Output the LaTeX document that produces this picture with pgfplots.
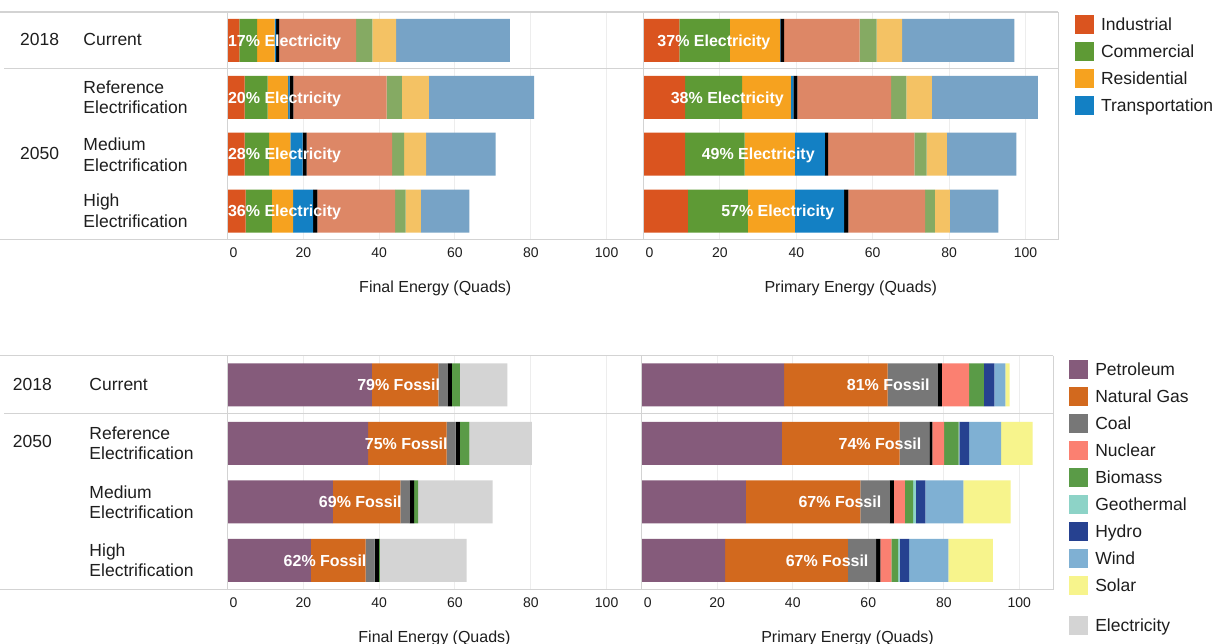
\documentclass[border=0pt]{standalone}
\usepackage{pgfplots}
\pgfplotsset{compat=1.18}
\usepackage{pgfplotstable}
\usepackage{fontspec}
\setmainfont{Liberation Sans}

\definecolor{cInd}{HTML}{DA541F}
\definecolor{cCom}{HTML}{5E9A35}
\definecolor{cRes}{HTML}{F6A21F}
\definecolor{cTra}{HTML}{1380C4}
\definecolor{cIndN}{HTML}{DD8766}
\definecolor{cComN}{HTML}{85AA63}
\definecolor{cResN}{HTML}{F4C264}
\definecolor{cTraN}{HTML}{77A3C6}
\definecolor{cPet}{HTML}{855B7B}
\definecolor{cNG}{HTML}{D2691E}
\definecolor{cCoal}{HTML}{777777}
\definecolor{cNuc}{HTML}{FB8071}
\definecolor{cBio}{HTML}{5A9B47}
\definecolor{cGeo}{HTML}{8DD3C7}
\definecolor{cHyd}{HTML}{264190}
\definecolor{cWind}{HTML}{7FB0D3}
\definecolor{cSol}{HTML}{F7F48C}
\definecolor{cElec}{HTML}{D4D4D4}
\definecolor{gridc}{HTML}{EDEDED}
\definecolor{framec}{HTML}{D3D3D3}
\definecolor{txt}{HTML}{1E1E1E}

% Final energy by sector (y=3 is 2018 Current, top)
\pgfplotstableread{
y ind com res tra sep indn comn resn tran
3 3.1 4.7 4.6 0.4 0.8 20.3 4.3 6.3 30.0
2 4.5 6.1 5.4 0.4 1.0 24.6 4.0 7.1 27.8
1 4.5 6.5 5.6 3.2 1.1 22.5 3.2 5.8 18.3
0 4.8 6.9 5.6 5.3 1.1 20.5 2.8 4.0 12.8
}\tFinalSec
% Primary energy by sector
\pgfplotstableread{
y ind com res tra sep indn comn resn tran
3 9.4 13.2 13.1 0.1 1.0 19.8 4.4 6.7 29.4
2 10.9 14.9 12.8 0.6 1.1 24.5 4.0 6.7 27.7
1 10.9 15.6 13.1 7.9 0.8 22.6 3.2 5.3 18.2
0 11.6 15.7 12.3 12.9 1.1 20.1 2.6 3.9 12.7
}\tPrimSec
% Final energy by source
\pgfplotstableread{
y pet ng coal sep bio elec
3 38.1 17.5 2.5 1.1 2.1 12.5
2 37.1 20.7 2.4 1.1 2.5 16.5
1 27.8 17.8 2.5 1.1 1.1 19.6
0 22.0 14.4 2.4 1.1 0.3 22.9
}\tFinalSrc
% Primary energy by source
\pgfplotstableread{
y pet ng coal sep nuc bio geo hyd wind sol
3 37.7 27.4 13.3 1.1 7.2 3.9 0.0 2.8 2.9 1.1
2 37.1 31.2 7.9 0.8 3.1 3.8 0.2 2.6 8.5 8.3
1 27.6 30.3 7.8 1.1 2.9 2.2 0.7 2.5 10.1 12.5
0 22.1 32.5 7.5 1.1 2.9 1.8 0.4 2.5 10.4 11.8
}\tPrimSrc

\tikzset{
  blab/.style={font=\fontsize{16bp}{18bp}\selectfont\bfseries, text=white, inner sep=0pt, text height=11.5bp, text depth=0pt},
}
\pgfplotsset{
  panel/.style={
    scale only axis,
    anchor=north west,
    xbar stacked,
    ymin=-0.5, ymax=3.5,
    ytick=\empty,
    xmin=0,
    xtick={0,20,...,100},
    xticklabels={\hspace*{12bp}0,20,40,60,80,100},
    xmajorgrids,
    major grid style={draw=gridc, line width=1bp},
    axis line style={draw=none},
    major tick length=0pt,
    tick style={draw=none},
    /pgf/number format/assume math mode=true,
    xticklabel style={font=\fontsize{14bp}{16bp}\selectfont, inner sep=0pt, anchor=north, yshift=-8.4bp, text=txt},
    xlabel style={font=\fontsize{16bp}{18bp}\selectfont, at={(axis description cs:0.5,0)}, anchor=base, yshift=-52.9bp, text=txt, inner sep=0pt},
    legend image code/.code={\fill[##1] (0bp,-9.5bp) rectangle (19bp,9.5bp);},
    legend style={draw=none, fill=none, inner sep=0pt, outer sep=0pt, anchor=north west, row sep=8bp, column sep=7bp, font=\fontsize{17.5bp}{20bp}\selectfont, nodes={inner sep=0pt, text height=12.5bp, text depth=0pt, text=txt}},
    legend cell align=left,
    clip=false,
  },
}

\begin{document}
\begin{tikzpicture}
\path[use as bounding box, fill=white] (0,0) rectangle (1215bp,-644bp);

% ---------- Top left: Final energy by sector
\begin{axis}[panel, at={(227.5bp,-12bp)}, width=415.5bp, height=227.5bp, xmax=109.6,
  bar width=0.755, xlabel={Final Energy (Quads)},
  after end axis/.code={
    \node[blab, anchor=west] at (axis cs:0.1,3) {17\% Electricity};
    \node[blab, anchor=west] at (axis cs:0.1,2) {20\% Electricity};
    \node[blab, anchor=west] at (axis cs:0.1,1) {28\% Electricity};
    \node[blab, anchor=west] at (axis cs:0.1,0) {36\% Electricity};
  }]
\addplot[fill=cInd, draw=none] table[x=ind, y=y] {\tFinalSec};
\addplot[fill=cCom, draw=none] table[x=com, y=y] {\tFinalSec};
\addplot[fill=cRes, draw=none] table[x=res, y=y] {\tFinalSec};
\addplot[fill=cTra, draw=none] table[x=tra, y=y] {\tFinalSec};
\addplot[fill=black, draw=none] table[x=sep, y=y] {\tFinalSec};
\addplot[fill=cIndN, draw=none] table[x=indn, y=y] {\tFinalSec};
\addplot[fill=cComN, draw=none] table[x=comn, y=y] {\tFinalSec};
\addplot[fill=cResN, draw=none] table[x=resn, y=y] {\tFinalSec};
\addplot[fill=cTraN, draw=none] table[x=tran, y=y] {\tFinalSec};
\end{axis}

% ---------- Top right: Primary energy by sector
\begin{axis}[panel, at={(643.5bp,-12bp)}, width=414.5bp, height=227.5bp, xmax=108.5,
  bar width=0.755, xlabel={Primary Energy (Quads)},
  legend style={at={(1.041,0.9868)}},
  after end axis/.code={
    \node[blab, anchor=west] at (axis cs:3.6,3) {37\% Electricity};
    \node[blab, anchor=west] at (axis cs:7.1,2) {38\% Electricity};
    \node[blab, anchor=west] at (axis cs:15.2,1) {49\% Electricity};
    \node[blab, anchor=west] at (axis cs:20.3,0) {57\% Electricity};
  }]
\addplot[fill=cInd, draw=none] table[x=ind, y=y] {\tPrimSec};
\addlegendentry{Industrial}
\addplot[fill=cCom, draw=none] table[x=com, y=y] {\tPrimSec};
\addlegendentry{Commercial}
\addplot[fill=cRes, draw=none] table[x=res, y=y] {\tPrimSec};
\addlegendentry{Residential}
\addplot[fill=cTra, draw=none] table[x=tra, y=y] {\tPrimSec};
\addlegendentry{Transportation}
\addplot[fill=black, draw=none, forget plot] table[x=sep, y=y] {\tPrimSec};
\addplot[fill=cIndN, draw=none, forget plot] table[x=indn, y=y] {\tPrimSec};
\addplot[fill=cComN, draw=none, forget plot] table[x=comn, y=y] {\tPrimSec};
\addplot[fill=cResN, draw=none, forget plot] table[x=resn, y=y] {\tPrimSec};
\addplot[fill=cTraN, draw=none, forget plot] table[x=tran, y=y] {\tPrimSec};
\end{axis}

% ---------- Bottom left: Final energy by source
\begin{axis}[panel, at={(227.5bp,-355.5bp)}, width=414bp, height=234bp, xmax=109.2,
  bar width=0.735, xlabel={Final Energy (Quads)},
  legend style={at={(2.0333,-0.112)}},
  after end axis/.code={
    \node[blab, anchor=east] at (axis cs:56.1,3) {79\% Fossil};
    \node[blab, anchor=east] at (axis cs:58.1,2) {75\% Fossil};
    \node[blab, anchor=east] at (axis cs:46.0,1) {69\% Fossil};
    \node[blab, anchor=east] at (axis cs:36.7,0) {62\% Fossil};
  }]
\addplot[fill=cPet, draw=none, forget plot] table[x=pet, y=y] {\tFinalSrc};
\addplot[fill=cNG, draw=none, forget plot] table[x=ng, y=y] {\tFinalSrc};
\addplot[fill=cCoal, draw=none, forget plot] table[x=coal, y=y] {\tFinalSrc};
\addplot[fill=black, draw=none, forget plot] table[x=sep, y=y] {\tFinalSrc};
\addplot[fill=cBio, draw=none, forget plot] table[x=bio, y=y] {\tFinalSrc};
\addplot[fill=cElec, draw=none] table[x=elec, y=y] {\tFinalSrc};
\addlegendentry{Electricity}
\end{axis}

% ---------- Bottom right: Primary energy by source
\begin{axis}[panel, at={(641.7bp,-355.5bp)}, width=411.6bp, height=234bp, xmax=109.0,
  bar width=0.735, xlabel={Primary Energy (Quads)},
  legend style={at={(1.0389,0.9808)}},
  after end axis/.code={
    \node[blab, anchor=east] at (axis cs:76.3,3) {81\% Fossil};
    \node[blab, anchor=east] at (axis cs:74.1,2) {74\% Fossil};
    \node[blab, anchor=east] at (axis cs:63.5,1) {67\% Fossil};
    \node[blab, anchor=east] at (axis cs:60.1,0) {67\% Fossil};
  }]
\addplot[fill=cPet, draw=none] table[x=pet, y=y] {\tPrimSrc};
\addlegendentry{Petroleum}
\addplot[fill=cNG, draw=none] table[x=ng, y=y] {\tPrimSrc};
\addlegendentry{Natural Gas}
\addplot[fill=cCoal, draw=none] table[x=coal, y=y] {\tPrimSrc};
\addlegendentry{Coal}
\addplot[fill=black, draw=none, forget plot] table[x=sep, y=y] {\tPrimSrc};
\addplot[fill=cNuc, draw=none] table[x=nuc, y=y] {\tPrimSrc};
\addlegendentry{Nuclear}
\addplot[fill=cBio, draw=none] table[x=bio, y=y] {\tPrimSrc};
\addlegendentry{Biomass}
\addplot[fill=cGeo, draw=none] table[x=geo, y=y] {\tPrimSrc};
\addlegendentry{Geothermal}
\addplot[fill=cHyd, draw=none] table[x=hyd, y=y] {\tPrimSrc};
\addlegendentry{Hydro}
\addplot[fill=cWind, draw=none] table[x=wind, y=y] {\tPrimSrc};
\addlegendentry{Wind}
\addplot[fill=cSol, draw=none] table[x=sol, y=y] {\tPrimSrc};
\addlegendentry{Solar}
\end{axis}

% ---------- frame lines and row labels
\begin{scope}[x=1bp, y=-1bp]
  \draw[framec, line width=1.5bp] (0,12) -- (1058,12);
  \draw[framec, line width=1.5bp] (4,68.5) -- (1058,68.5);
  \draw[framec, line width=1.5bp] (0,239.5) -- (1058,239.5);
  \draw[framec, line width=1bp] (227,12) -- (227,239.5);
  \draw[framec, line width=1bp] (643,12) -- (643,239.5);
  \draw[framec, line width=1bp] (1058,12) -- (1058,239.5);

  \draw[framec, line width=1.5bp] (0,355.5) -- (1053.3,355.5);
  \draw[framec, line width=1.5bp] (4,413.5) -- (1053.3,413.5);
  \draw[framec, line width=1.5bp] (0,589.5) -- (1053.3,589.5);
  \draw[framec, line width=1bp] (227,355.5) -- (227,589.5);
  \draw[framec, line width=1bp] (641.2,355.5) -- (641.2,589.5);
  \draw[framec, line width=1bp] (1053.3,355.5) -- (1053.3,589.5);

  \begin{scope}[every node/.style={anchor=base west, inner sep=0pt, text=txt, font=\fontsize{17.5bp}{20bp}\selectfont}]
    \node at (20,45) {2018};
    \node at (83.3,45) {Current};
    \node at (20,159) {2050};
    \node at (83.3,93.3) {Reference};
    \node at (83.3,113.3) {Electrification};
    \node at (83.3,150) {Medium};
    \node at (83.3,171) {Electrification};
    \node at (83.3,206.7) {High};
    \node at (83.3,227.7) {Electrification};

    \node at (12.7,390) {2018};
    \node at (89.3,390) {Current};
    \node at (12.7,447.8) {2050};
    \node at (89.3,439.3) {Reference};
    \node at (89.3,459.3) {Electrification};
    \node at (89.3,498) {Medium};
    \node at (89.3,518) {Electrification};
    \node at (89.3,556.5) {High};
    \node at (89.3,576.5) {Electrification};
  \end{scope}
\end{scope}
\end{tikzpicture}
\end{document}
